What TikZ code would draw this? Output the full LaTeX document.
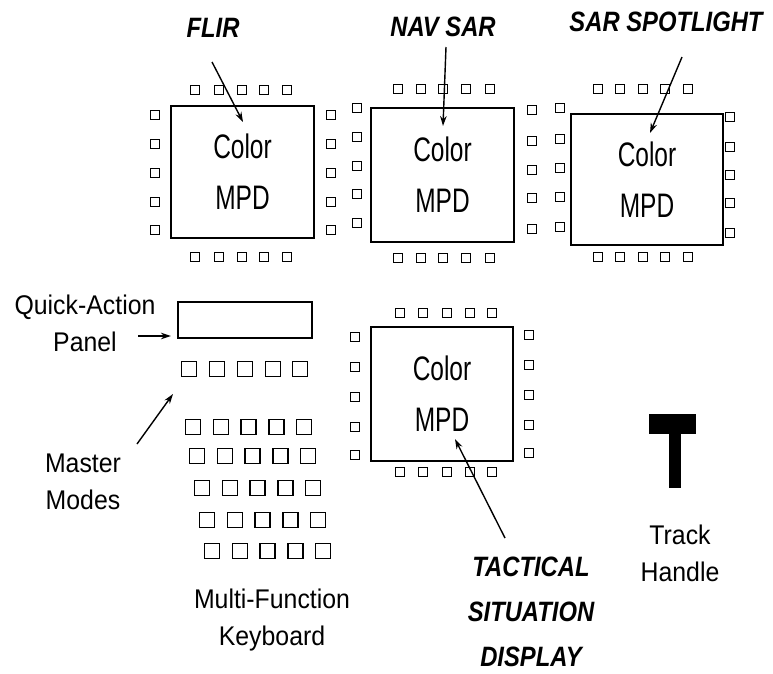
\documentclass[tikz,border=0pt]{standalone}
\usepackage{fontspec}
\setmainfont{Liberation Sans}
\newfontfamily\lblfont[FakeStretch=0.92]{Liberation Sans}
\newfontfamily\mpdfont[FakeStretch=0.72]{Liberation Sans}
\newfontfamily\modefont[FakeStretch=0.85]{Liberation Sans}
\usetikzlibrary{arrows.meta}
\begin{document}
\begin{tikzpicture}[x=1pt,y=-1pt,
	mpd/.style={draw,line width=1.5pt,align=center,font=\mpdfont\fontsize{34}{51}\selectfont},
	btn/.style={draw,line width=1.4pt,minimum size=8.5pt,inner sep=0pt},
	kbkey/.style={draw,line width=1.4pt,minimum size=15pt,inner sep=0pt},
	lbl/.style={align=center,inner sep=0pt,font=\lblfont\fontsize{27}{37}\selectfont},
	modelbl/.style={align=center,inner sep=0pt,font=\modefont\bfseries\itshape\fontsize{28}{45}\selectfont},
	arr/.style={-{Stealth[length=10pt,width=6.5pt]},line width=1.4pt}]
			\useasboundingbox (0,0) rectangle (773,673);
			\node[mpd,minimum width=143pt,minimum height=132pt] (flir) at (242.5,172) {Color\\MPD};
			\node[mpd,minimum width=143pt,minimum height=134pt] (navsar) at (442.5,175) {Color\\MPD};
			\node[mpd,minimum width=152pt,minimum height=131pt] (spot) at (647,179.5) {Color\\MPD};
			\node[mpd,minimum width=142pt,minimum height=134pt] (tsd) at (442,394) {Color\\MPD};
			\foreach \x [count=\i] in {195,219,242,264,287} {
				\node[btn] (flir-t\i) at (\x,90) {};
				\node[btn] (flir-b\i) at (\x,257) {};
			}
			\foreach \y [count=\i] in {115,144,173,202,230} {
				\node[btn] (flir-l\i) at (155,\y) {};
				\node[btn] (flir-r\i) at (331,\y) {};
			}
			\foreach \x [count=\i] in {398,421,443,466,490} {
				\node[btn] (navsar-t\i) at (\x,89) {};
				\node[btn] (navsar-b\i) at (\x,258) {};
			}
			\foreach \y [count=\i] in {108,137,166,194,223} \node[btn] (navsar-l\i) at (357,\y) {};
			\foreach \y [count=\i] in {110,141,170,198,229} \node[btn] (navsar-r\i) at (532,\y) {};
			\foreach \x [count=\i] in {598,620,643,665,688} {
				\node[btn] (spot-t\i) at (\x,89) {};
				\node[btn] (spot-b\i) at (\x,257) {};
			}
			\foreach \y [count=\i] in {108,139,168,197,227} \node[btn] (spot-l\i) at (560,\y) {};
			\foreach \y [count=\i] in {117,147,175,203,233} \node[btn] (spot-r\i) at (730,\y) {};
			\foreach \x [count=\i] in {400,423,447,470,492} {
				\node[btn] (tsd-t\i) at (\x,313) {};
				\node[btn] (tsd-b\i) at (\x,472) {};
			}
			\foreach \y [count=\i] in {337,367,397,427,455} {
				\node[btn] (tsd-l\i) at (355,\y) {};
				\node[btn] (tsd-r\i) at (529,\y-2) {};
			}
			\node[draw,line width=1.5pt,minimum width=134pt,minimum height=36pt] (qap) at (245,320) {};
			\foreach \x [count=\i] in {189,217,245,273,300} \node[kbkey] (mm\i) at (\x,369) {};
			\foreach \r/\y/\s in {1/427/193,2/456/197,3/488/202,4/520/207,5/551/212}
				\foreach \c in {0,...,4} \node[kbkey] (kb\r\c) at ({\s+27.8*\c},\y) {};
			\fill (649,414) rectangle (696,434);
			\fill (669,434) rectangle (681,488);
			\node[modelbl] (flirlbl) at (213,28) {FLIR};
			\node[modelbl] (navlbl) at (443,27) {NAV SAR};
			\node[modelbl] (spotlbl) at (666,22) {SAR SPOTLIGHT};
			\node[modelbl] (tsdlbl) at (531,612) {TACTICAL\\SITUATION\\DISPLAY};
			\node[lbl] (qalbl) at (85,323.5) {Quick-Action\\Panel};
			\node[lbl] (mmlbl) at (83,481.5) {Master\\Modes};
			\node[lbl] (kblbl) at (272,620) {Multi-Function\\Keyboard};
			\node[lbl] (thlbl) at (680,553.5) {Track\\Handle};
			\coordinate (flirtail) at (212,62);
			\coordinate (flirtip) at (243,122);
			\coordinate (navtail) at (446,47);
			\coordinate (navtip) at (443,126);
			\coordinate (spottail) at (682,57);
			\coordinate (spottip) at (650,133);
			\coordinate (tsdtail) at (505,538);
			\coordinate (tsdtip) at (455,439);
			\coordinate (qatail) at (138,336);
			\coordinate (qatip) at (171,336);
			\coordinate (mmtail) at (137,444);
			\coordinate (mmtip) at (173,394);
			\draw[arr] (flirtail) -- (flirtip);
			\draw[arr] (navtail) -- (navtip);
			\draw[arr] (spottail) -- (spottip);
			\draw[arr] (tsdtail) -- (tsdtip);
			\draw[arr] (qatail) -- (qatip);
			\draw[arr] (mmtail) -- (mmtip);
		\end{tikzpicture}
\end{document}
